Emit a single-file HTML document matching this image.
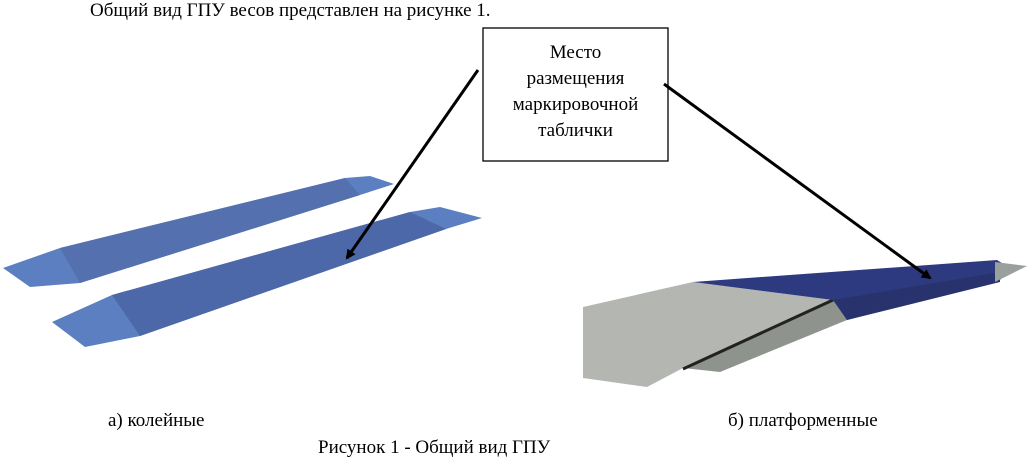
<!DOCTYPE html><html><head><meta charset="utf-8"><style>
body{margin:0;width:1034px;height:463px;background:#fff;overflow:hidden;position:relative;font-family:"Liberation Serif",serif;color:#000}
.t{position:absolute;font-size:19px;white-space:nowrap}
</style></head><body>
<svg width="1034" height="463" style="position:absolute;left:0;top:0">
<defs><marker id="a" markerWidth="10" markerHeight="10" refX="8" refY="5" orient="auto" markerUnits="userSpaceOnUse"><path d="M0,0 L10,5 L0,10 z" fill="#000"/></marker></defs>
<polygon points="3,268 60,248 345,178 370,176 394,184 360,195 80,283 30,287" fill="#5b7fc0"/>
<polygon points="60,248 345,178 360,195 80,283" fill="#5470ae"/>
<polygon points="52,322 112,295 410,212 440,207 482,218 446,229 140,336 85,347" fill="#5b7fc0"/>
<polygon points="112,295 410,212 446,229 140,336" fill="#4d68a8"/>
<polygon points="583,307 693,282 833,300 683,368 647,387 583,378" fill="#b4b6b1"/>
<polygon points="683,368 833,300 847,320 720,372" fill="#8f938e"/>
<line x1="683" y1="369" x2="833" y2="300" stroke="#222" stroke-width="3"/>
<polygon points="693,282 997,260 1010,268 1000,280 847,320 833,300" fill="#2e3a80"/>
<polygon points="833,300 1000,272 1000,282 847,320" fill="#28336e"/>
<polygon points="995,262 1027,266 995,282" fill="#9aa09c"/>
<rect x="483" y="28" width="185" height="133" fill="#fff" stroke="#000" stroke-width="1.3"/>
<line x1="478" y1="70" x2="347" y2="258" stroke="#000" stroke-width="3" marker-end="url(#a)"/>
<line x1="664" y1="84" x2="930" y2="278" stroke="#000" stroke-width="3" marker-end="url(#a)"/>
</svg>
<div class="t" style="left:90px;top:0px">Общий вид ГПУ весов представлен на рисунке 1.</div>
<div class="t" style="left:483px;top:40px;width:185px;text-align:center;line-height:26px;white-space:normal">Место<br>размещения<br>маркировочной<br>таблички</div>
<div class="t" style="left:108px;top:410px">а) колейные</div>
<div class="t" style="left:728px;top:410px">б) платформенные</div>
<div class="t" style="left:318px;top:437px">Рисунок 1 - Общий вид ГПУ</div>
</body></html>
